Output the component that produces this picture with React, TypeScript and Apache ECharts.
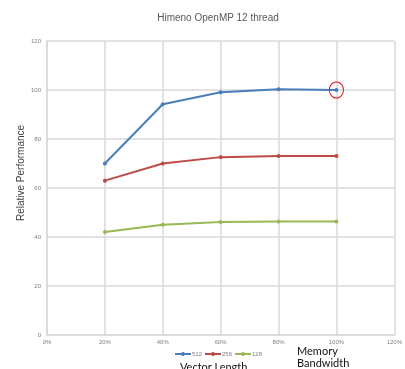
import React, { useEffect, useRef } from "react";
import * as echarts from "echarts";

const bandwidth = [0.2, 0.4, 0.6, 0.8, 1.0];
const s512 = [70, 94.2, 99.1, 100.3, 100];
const s256 = [63, 70, 72.6, 73.1, 73.1];
const s128 = [42, 45, 46.1, 46.3, 46.3];
const seriesNames = ["512", "256", "128"];
const highlightPoint = [1.0, 100];

export default function App() {
  const ref = useRef<HTMLDivElement>(null);
  useEffect(() => {
    const chart = echarts.init(ref.current!, undefined, { renderer: "svg" });
    const mk = (vals: number[]) => bandwidth.map((x, i) => [x, vals[i]]);
    const colors = ["#4a7ebb", "#be4b48", "#98b954"];
    const data = [s512, s256, s128];
    chart.setOption({
      animation: false,
      grid: { left: 47, right: 7, top: 41, bottom: 34 },
      legend: {
        data: seriesNames,
        left: 174,
        top: 351,
        itemWidth: 16,
        itemHeight: 5,
        itemGap: 2,
        padding: 0,
        textStyle: { fontSize: 6, color: "#7f7f7f", fontFamily: "Liberation Sans", padding: [0, 0, 0, -4] },
      },
      xAxis: {
        type: "value",
        min: 0,
        max: 1.2,
        interval: 0.2,
        axisLine: { show: true, lineStyle: { color: "#d9d9d9", width: 1.5 } },
        axisTick: { show: false },
        splitLine: { show: true, lineStyle: { color: "#d9d9d9", width: 1.5 } },
        axisLabel: {
          fontSize: 6,
          color: "#7f7f7f",
          fontFamily: "Liberation Sans",
          margin: 4,
          formatter: (v: number) => Math.round(v * 100) + "%",
        },
      },
      yAxis: {
        type: "value",
        min: 0,
        max: 120,
        interval: 20,
        axisLine: { show: true, lineStyle: { color: "#d9d9d9", width: 1.5 } },
        axisTick: { show: false },
        splitLine: { show: true, lineStyle: { color: "#d9d9d9", width: 1.5 } },
        axisLabel: { fontSize: 6, color: "#7f7f7f", fontFamily: "Liberation Sans", margin: 6 },
      },
      graphic: [
        {
          type: "text",
          x: 218,
          y: 17,
          style: {
            text: "Himeno OpenMP 12 thread",
            fontSize: 10,
            fontFamily: "Liberation Sans",
            fill: "#595959",
            textAlign: "center",
            textVerticalAlign: "middle",
          },
        },
        {
          type: "text",
          x: 20,
          y: 173,
          rotation: Math.PI / 2,
          style: {
            text: "Relative Performance",
            fontSize: 10,
            fontFamily: "Liberation Sans",
            fill: "#404040",
            textAlign: "center",
            textVerticalAlign: "middle",
          },
        },
        {
          type: "text",
          x: 297,
          y: 344,
          style: { text: "Memory\nBandwidth", fontSize: 11, lineHeight: 12, fontFamily: "Lato", fill: "#111" },
        },
        {
          type: "text",
          x: 180,
          y: 361,
          style: { text: "Vector Length", fontSize: 11, fontFamily: "Lato", fill: "#111" },
        },
      ],
      series: data.map((vals, i) => ({
        name: seriesNames[i],
        type: "line",
        data: mk(vals),
        symbol: "circle",
        symbolSize: 4,
        lineStyle: { width: 2, color: colors[i] },
        itemStyle: { color: colors[i] },
        markPoint:
          i === 0
            ? {
                symbol: "circle",
                symbolSize: [14, 16],
                itemStyle: { color: "rgba(0,0,0,0)", borderColor: "#e8101a", borderWidth: 1 },
                label: { show: false },
                data: [{ coord: highlightPoint }],
              }
            : undefined,
      })),
    });
    return () => chart.dispose();
  }, []);
  return (
    <div
      ref={ref}
      style={{ position: "fixed", left: 0, top: 0, width: 405, height: 369, overflow: "hidden" }}
    />
  );
}
